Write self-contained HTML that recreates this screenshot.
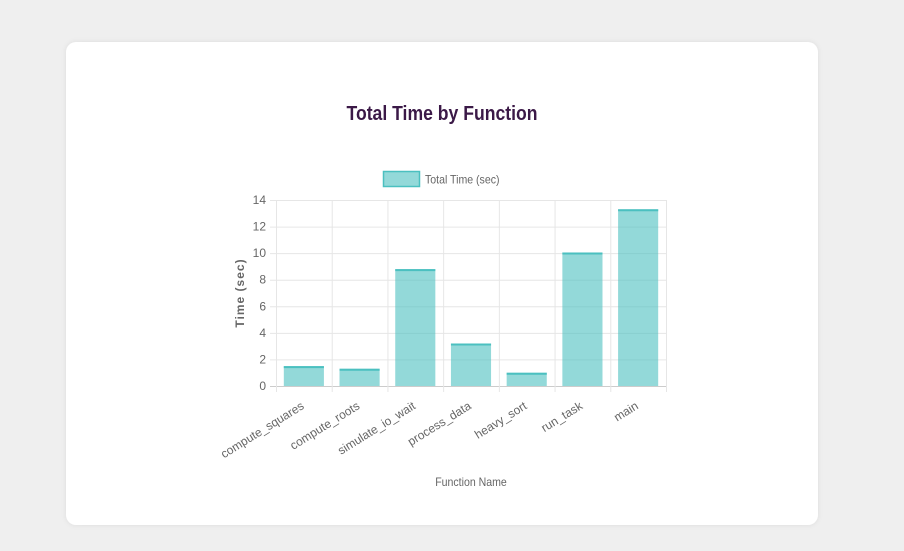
<!DOCTYPE html>
<html><head><meta charset="utf-8"><style>
html,body{margin:0;padding:0;background:#efefef;width:904px;height:551px;overflow:hidden;font-family:"Liberation Sans",sans-serif}
#card{position:absolute;left:66px;top:42px;width:752px;height:483px;background:#fff;border-radius:10px;box-shadow:0 0 6px rgba(0,0,0,0.08)}
svg{position:absolute;left:0;top:0}
</style></head><body>
<div id="card"></div>
<svg id="chart" width="904" height="551">
<text class="nar" x="442" y="120" text-anchor="middle" font-size="20" font-weight="bold" fill="#3b1947">Total Time by Function</text>
<g>
<rect x="383.5" y="171.5" width="36" height="15" fill="rgba(75,192,192,0.6)" stroke="#4bc0c0" stroke-width="1.5"/>
<text class="nar" x="425" y="183.5" font-size="12" fill="#666">Total Time (sec)</text>
</g>
<g id="grid"></g><g id="bars"></g><g id="labels"></g>
<text transform="translate(244,293) rotate(-90)" text-anchor="middle" font-size="12" font-weight="bold" fill="#666" letter-spacing="1">Time (sec)</text>
<text class="nar" x="471" y="486" text-anchor="middle" font-size="12" fill="#666">Function Name</text>
</svg>
<script>
const categories=["compute_squares","compute_roots","simulate_io_wait","process_data","heavy_sort","run_task","main"];
const values=[1.5,1.3,8.8,3.2,1.0,10.05,13.3];
const yTicks=[0,2,4,6,8,10,12,14];
const NS="http://www.w3.org/2000/svg";
const L=276,R=666,T=200,B=386,yMax=14;
const bw=(R-L)/categories.length;
const y=v=>B-(v/yMax)*(B-T);
const xc=i=>L+bw*(i+0.5);
function mk(t,a,p){const e=document.createElementNS(NS,t);for(const k in a)e.setAttribute(k,a[k]);p.appendChild(e);return e;}
const g=document.getElementById('grid'),bg=document.getElementById('bars'),lg=document.getElementById('labels');
yTicks.forEach(v=>{
 const l=mk('line',{x1:L-6,x2:R,y1:y(v)+0.5,y2:y(v)+0.5,stroke:v===0?'#ccc':'#e6e6e6'},g);
 
 
 const t=mk('text',{x:L-10,y:y(v)+4,'text-anchor':'end','font-size':12,fill:'#666'},lg);
 t.textContent=v;
 
 
});
for(let i=0;i<=categories.length;i++){
 const x=L+bw*i;
 const l=mk('line',{x1:x+0.5,x2:x+0.5,y1:T,y2:B+6,stroke:'#e6e6e6'},g);
 
 
}
categories.forEach((c,i)=>{
 const w=bw*0.72;
 const r=mk('rect',{x:xc(i)-w/2,y:y(values[i]),width:w,height:B-y(values[i]),fill:'rgba(75,192,192,0.6)'},bg);
 
 
 const tl=mk('line',{x1:xc(i)-w/2,x2:xc(i)+w/2,y1:y(values[i])+1,y2:y(values[i])+1,stroke:'#4bc0c0','stroke-width':2},bg);
 
 
 const t=mk('text',{transform:`translate(${xc(i)+1},${B+22}) rotate(-32)`,'text-anchor':'end','font-size':12,fill:'#666'},lg);
 t.textContent=c;
 
 
});
document.querySelectorAll('.nar').forEach(t=>{
 const len=t.getComputedTextLength();
 t.setAttribute('textLength',(len*0.88).toFixed(1));
 t.setAttribute('lengthAdjust','spacingAndGlyphs');
});
</script>
</body></html>
